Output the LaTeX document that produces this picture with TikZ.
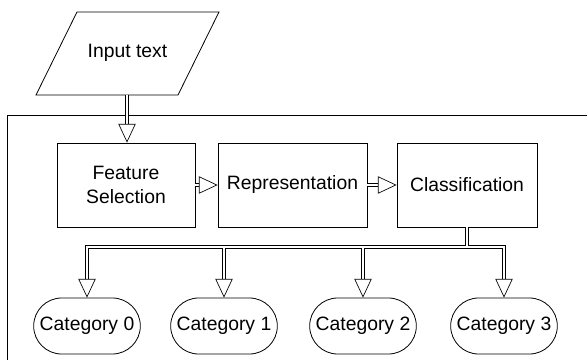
\documentclass[tikz,border=0pt]{standalone}
\usepackage{fontspec}
\setmainfont{Liberation Sans}
\usetikzlibrary{arrows.meta,calc,shapes.misc}
\begin{document}
\begin{tikzpicture}[x=0.75pt,y=-0.75pt,
  font=\fontsize{14.5}{18}\selectfont,
  line width=0.6pt,
  proc/.style={draw, minimum height=63pt, align=center, inner sep=2pt},
  cat/.style={draw, rounded rectangle, minimum width=84pt, minimum height=42pt, inner sep=2pt},
  dline/.style={draw, line width=0.5pt, double=white, double distance=1.8pt},
  flow/.style={dline, -{Triangle[length=14pt,width=13pt,fill=white,line width=0.5pt]}}]
\useasboundingbox (0,0) rectangle (587,360);
% outer frame
\draw (600,115) -- (7,115) -- (7,370);
% input parallelogram
\draw (77,12) -- (219,12) -- (178,95) -- (36,95) -- cycle;
\node (inp) at (127.5,53) {Input text};
\coordinate (inpb) at (127,95);
% process boxes
\node[proc, minimum width=103.5pt] (fs) at (126,185) {Feature\\Selection};
\node[proc, minimum width=111.75pt] (rep) at (292.5,185) {Representation};
\node[proc, minimum width=105pt] (cls) at (467,185) {Classification};
% categories
\node[cat] (c0) at (87,326) {Category 0};
\node[cat] (c1) at (224,326) {Category 1};
\node[cat] (c2) at (363,326) {Category 2};
\node[cat] (c3) at (504,326) {Category 3};
\coordinate (bus) at (0,247);
% connectors
\draw[flow] (inpb) -- (inpb |- fs.north);
\draw[flow] (fs.east) -- (rep.west);
\draw[flow] (rep.east) -- (cls.west);
\draw[dline] (cls.south) -- (cls.south |- bus)
  ($(c0.north)+(0,-25)$) -- (c0.north |- bus) -- (c3.north |- bus) -- ($(c3.north)+(0,-25)$)
  (c1.north |- bus) -- ($(c1.north)+(0,-25)$)
  (c2.north |- bus) -- ($(c2.north)+(0,-25)$);
\draw[flow] ($(c0.north)+(0,-35)$) -- (c0.north);
\draw[flow] ($(c1.north)+(0,-35)$) -- (c1.north);
\draw[flow] ($(c2.north)+(0,-35)$) -- (c2.north);
\draw[flow] ($(c3.north)+(0,-35)$) -- (c3.north);
\end{tikzpicture}
\end{document}
